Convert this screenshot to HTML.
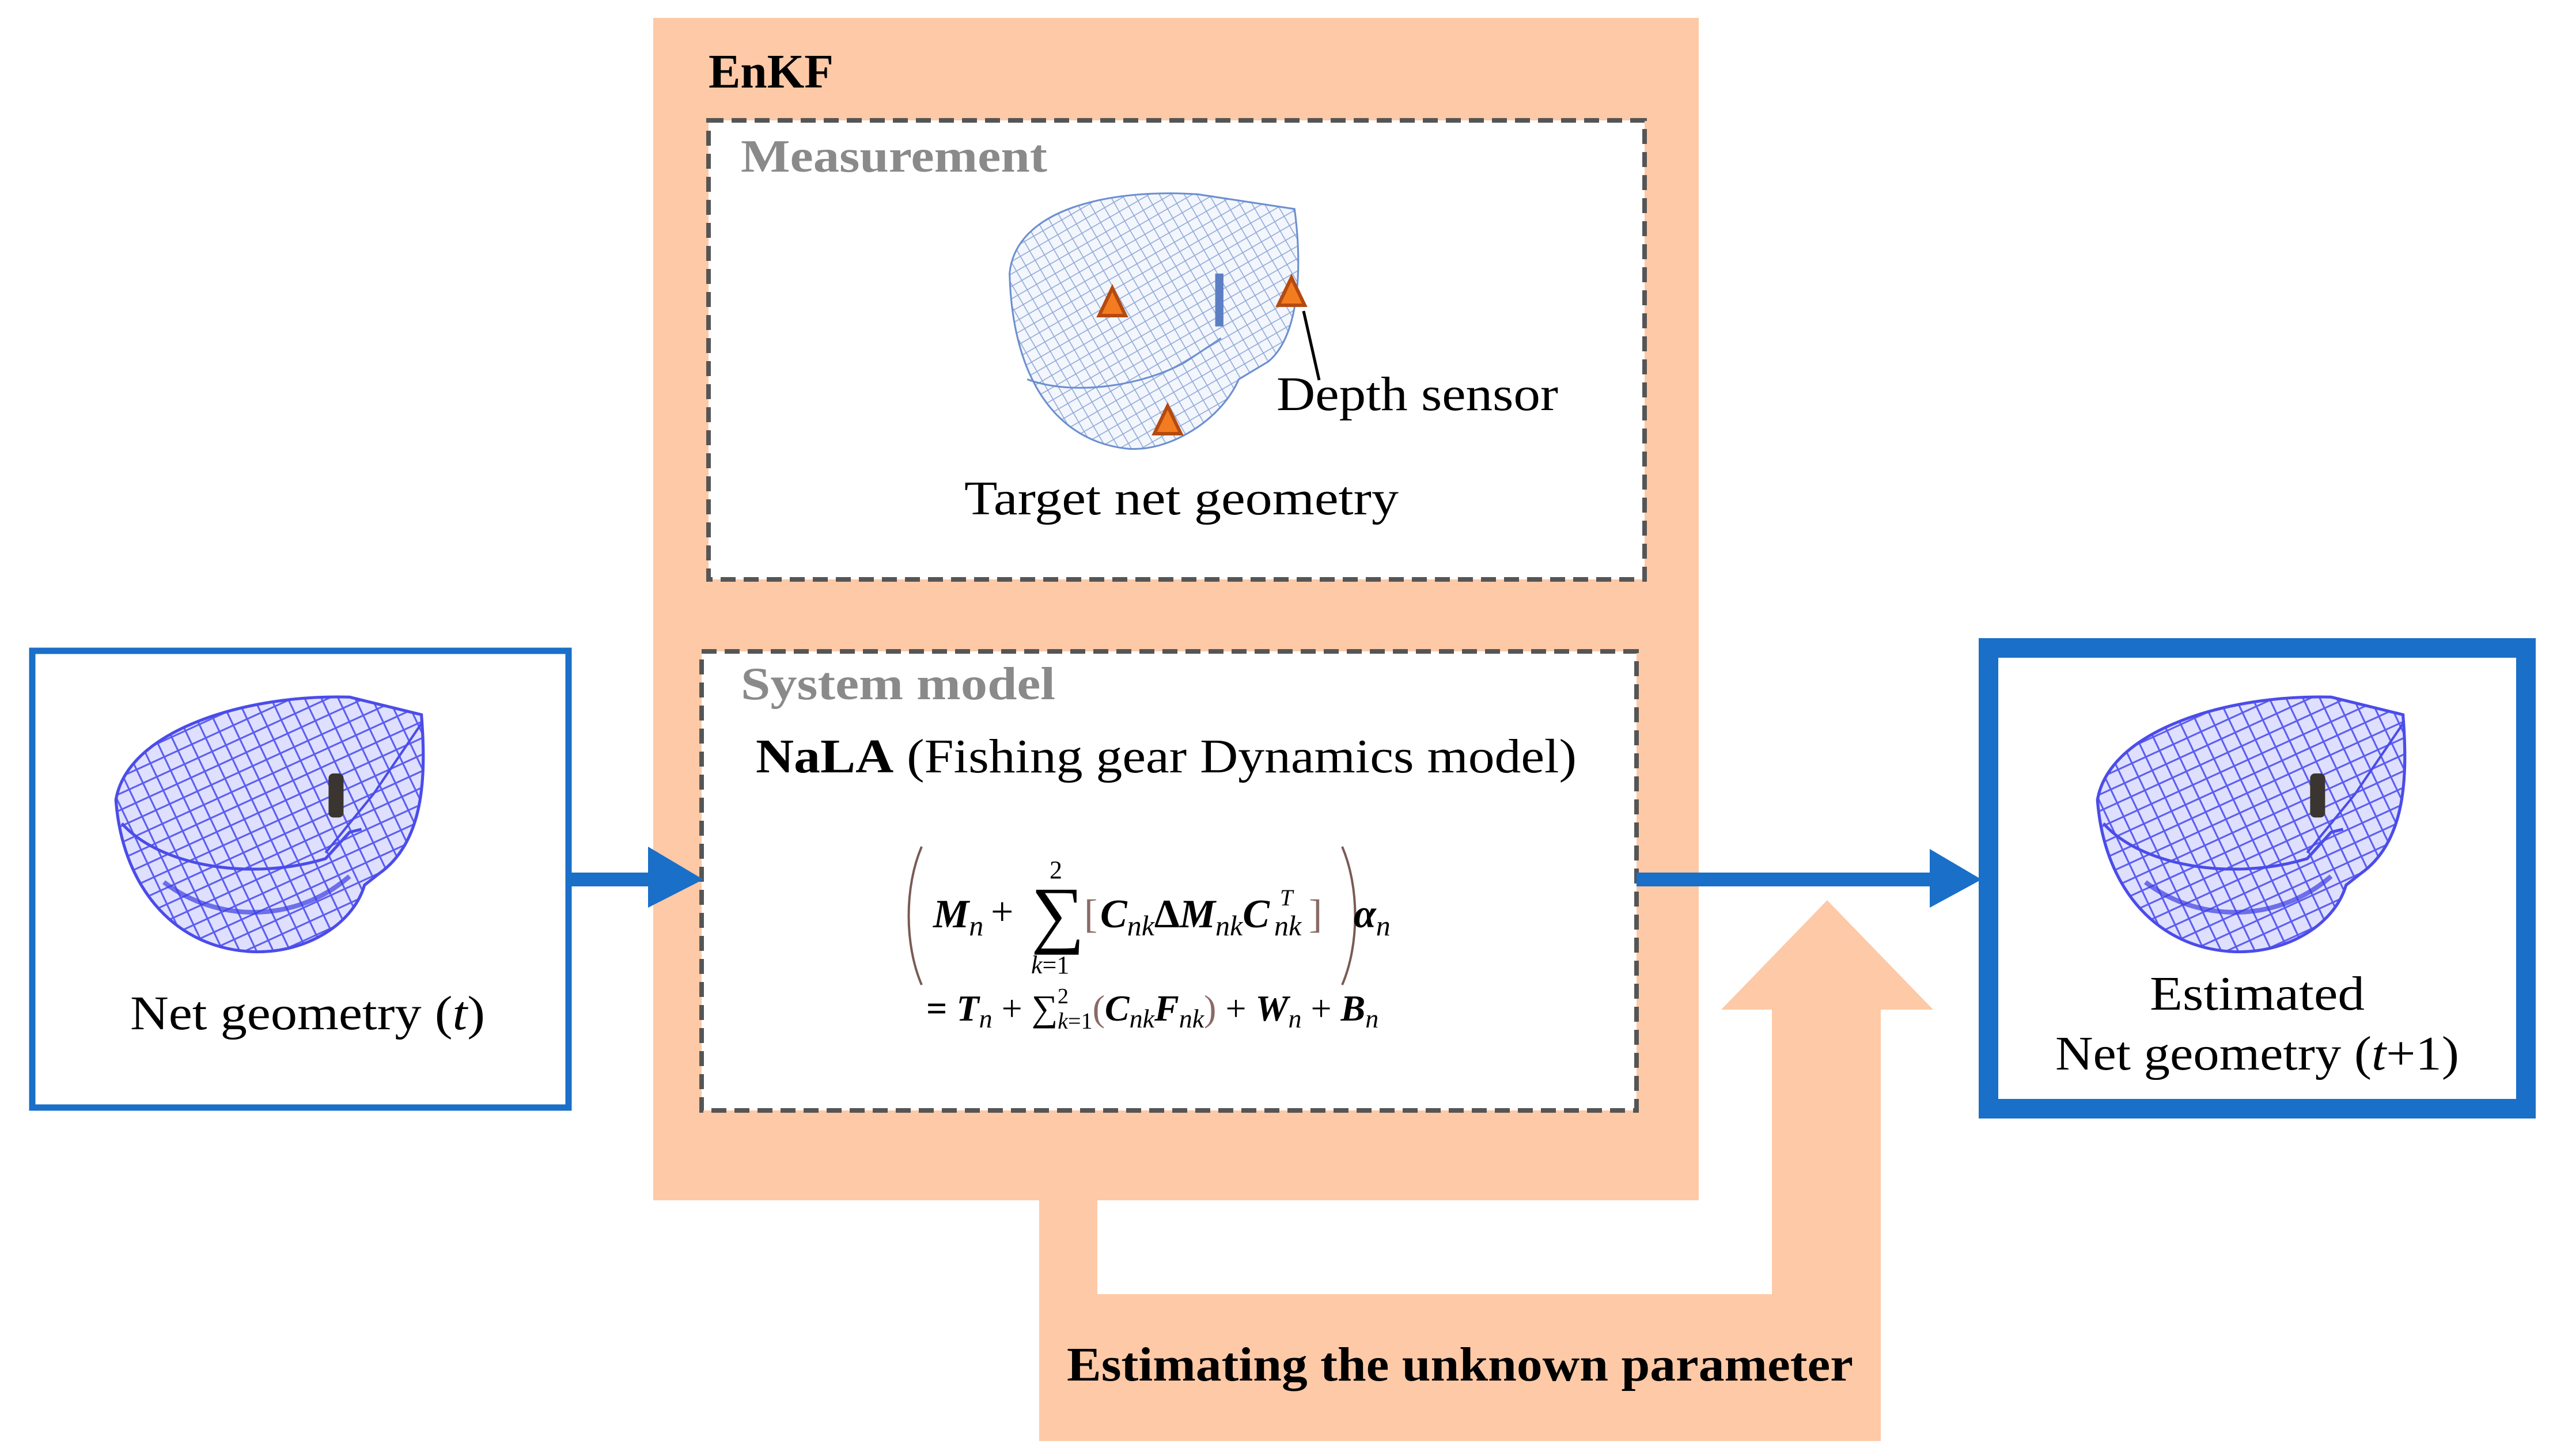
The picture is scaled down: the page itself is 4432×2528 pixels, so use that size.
<!DOCTYPE html>
<html><head><meta charset="utf-8"><style>
html,body{margin:0;padding:0;background:#fff;}
svg{display:block;}
text{font-family:"Liberation Serif",serif;}
</style></head><body>
<svg width="4432" height="2528" viewBox="0 0 4432 2528" xmlns="http://www.w3.org/2000/svg">
<defs>
<pattern id="mesh" width="36" height="36" patternUnits="userSpaceOnUse" patternTransform="rotate(20)">
<rect width="36" height="36" fill="#dfe0ff"/>
<path d="M0 0L36 36M36 0L0 36" stroke="#5b5cf0" stroke-width="3"/>
</pattern>
<pattern id="mesh2" width="26" height="26" patternUnits="userSpaceOnUse" patternTransform="rotate(15)">
<rect width="26" height="26" fill="#f3f6fc"/>
<path d="M0 0L26 26M26 0L0 26" stroke="#8fa9d8" stroke-width="1.6"/>
</pattern>
<g id="net">
<path d="M30 190 C50 70 250 10 420 15 L540 45 C548 150 545 260 470 315 L445 335 C425 405 340 455 250 448 C120 438 40 330 30 190 Z" fill="url(#mesh)" stroke="#4b4ce8" stroke-width="5"/>
<path d="M40 230 C100 300 250 330 380 290 L420 245 L440 240" fill="none" stroke="#4b4ce8" stroke-width="5"/>
<path d="M110 330 C200 400 330 400 420 320" fill="none" stroke="#3c3de0" stroke-width="8" opacity="0.7"/>
<path d="M380 280 L460 180 L540 60" fill="none" stroke="#4b4ce8" stroke-width="4"/>
<rect x="385" y="145" width="25" height="75" rx="8" fill="#3a3530"/>
</g>
</defs>

<rect x="1134" y="31" width="1815" height="2053" fill="#fdc9a6"/>
<path d="M1804 2084 L1905 2084 L1905 2247 L3076 2247 L3076 1753 L2988 1753 L3172 1563 L3356 1753 L3265 1753 L3265 2502 L1804 2502 Z" fill="#fdc9a6"/>

<text x="1230" y="152" font-size="84" font-weight="bold" fill="#000" textLength="217" lengthAdjust="spacingAndGlyphs">EnKF</text>

<rect x="1230" y="209" width="1625" height="797" fill="#fff" stroke="#555" stroke-width="8" stroke-dasharray="26 14"/>
<text x="1286" y="298" font-size="80" font-weight="bold" fill="#8a8a8a" textLength="532" lengthAdjust="spacingAndGlyphs">Measurement</text>
<g transform="translate(1722,322) scale(1.02)">
<path d="M30 150 C40 40 200 5 350 15 L515 40 C530 150 520 260 470 300 L420 330 C390 400 300 455 230 448 C110 435 35 330 30 150 Z" fill="url(#mesh2)" stroke="#6b8fd0" stroke-width="3"/>
<path d="M60 330 C140 360 260 340 330 300 L390 260" fill="none" stroke="#6b8fd0" stroke-width="3"/>
<rect x="380" y="150" width="14" height="90" fill="#5c7fc4"/>
</g>
<path d="M2263 540 L2290 660" stroke="#000" stroke-width="5"/>
<polygon points="1931,500 1954,548 1908,548" fill="#f47c20" stroke="#b44a10" stroke-width="6"/>
<polygon points="2242,482 2265,530 2219,530" fill="#f47c20" stroke="#b44a10" stroke-width="6"/>
<polygon points="2027,705 2050,753 2004,753" fill="#f47c20" stroke="#b44a10" stroke-width="6"/>
<text x="2216" y="712" font-size="84" fill="#000" textLength="489" lengthAdjust="spacingAndGlyphs">Depth sensor</text>
<text x="1674" y="893" font-size="84" fill="#000" textLength="754" lengthAdjust="spacingAndGlyphs">Target net geometry</text>

<rect x="1218" y="1131" width="1623" height="797" fill="#fff" stroke="#555" stroke-width="8" stroke-dasharray="26 14"/>
<text x="1286" y="1214" font-size="80" font-weight="bold" fill="#8a8a8a" textLength="546" lengthAdjust="spacingAndGlyphs">System model</text>
<text x="1312" y="1341" font-size="84" fill="#000" textLength="1425" lengthAdjust="spacingAndGlyphs"><tspan font-weight="bold">NaLA</tspan> (Fishing gear Dynamics model)</text>

<g font-style="italic" font-weight="bold" fill="#000">
<path d="M1600 1470 C1570 1540 1570 1640 1600 1710" fill="none" stroke="#7a5a55" stroke-width="4"/>
<path d="M2330 1470 C2360 1540 2360 1640 2330 1710" fill="none" stroke="#7a5a55" stroke-width="4"/>
<text x="1620" y="1610" font-size="70">M<tspan font-size="50" dy="14" font-weight="normal">n</tspan></text>
<text x="1720" y="1606" font-size="70" font-style="normal" font-weight="normal">+</text>
<text x="1790" y="1630" font-size="130" font-style="normal" font-weight="normal">∑</text>
<text x="1822" y="1525" font-size="44" font-style="normal" font-weight="normal">2</text>
<text x="1790" y="1690" font-size="44" font-weight="normal">k<tspan font-style="normal">=1</tspan></text>
<text x="1882" y="1610" font-size="70" font-style="normal" font-weight="normal" fill="#8a6a66">[</text>
<text x="1910" y="1610" font-size="70">C<tspan font-size="50" dy="14" font-weight="normal">nk</tspan><tspan dy="-14" font-style="normal">Δ</tspan>M<tspan font-size="50" dy="14" font-weight="normal">nk</tspan><tspan dy="-14">C</tspan></text>
<text x="2222" y="1572" font-size="40" font-weight="normal">T</text>
<text x="2212" y="1624" font-size="50" font-weight="normal">nk</text>
<text x="2272" y="1610" font-size="70" font-style="normal" font-weight="normal" fill="#8a6a66">]</text>
<text x="2350" y="1610" font-size="70">α<tspan font-size="50" dy="14" font-weight="normal">n</tspan></text>
<text x="1608" y="1772" font-size="64"><tspan font-style="normal">= </tspan>T<tspan font-size="46" dy="12" font-weight="normal">n</tspan><tspan dy="-12" font-style="normal" font-weight="normal"> + ∑</tspan><tspan font-size="40" dy="14" font-weight="normal">k<tspan font-style="normal">=1</tspan></tspan><tspan dy="-14" font-style="normal" font-weight="normal" fill="#8a6a66">(</tspan>C<tspan font-size="46" dy="12" font-weight="normal">nk</tspan><tspan dy="-12">F</tspan><tspan font-size="46" dy="12" font-weight="normal">nk</tspan><tspan dy="-12" font-style="normal" font-weight="normal" fill="#8a6a66">)</tspan><tspan font-style="normal" font-weight="normal"> + </tspan>W<tspan font-size="46" dy="12" font-weight="normal">n</tspan><tspan dy="-12" font-style="normal" font-weight="normal"> + </tspan>B<tspan font-size="46" dy="12" font-weight="normal">n</tspan></text>
<text x="1836" y="1742" font-size="38" font-style="normal" font-weight="normal">2</text>
</g>

<rect x="56" y="1130" width="931" height="793" fill="#fff" stroke="#1a6fc8" stroke-width="11"/>
<use href="#net" transform="translate(170,1195) scale(1.04,1.02)"/>
<text x="226" y="1787" font-size="84" fill="#000" textLength="616" lengthAdjust="spacingAndGlyphs">Net geometry (<tspan font-style="italic">t</tspan>)</text>

<rect x="3452" y="1125" width="933" height="800" fill="#fff" stroke="#1a6fc8" stroke-width="34"/>
<use href="#net" transform="translate(3610,1195) scale(1.04,1.02)"/>
<text x="3732" y="1753" font-size="84" fill="#000" textLength="373" lengthAdjust="spacingAndGlyphs">Estimated</text>
<text x="3568" y="1857" font-size="84" fill="#000" textLength="701" lengthAdjust="spacingAndGlyphs">Net geometry (<tspan font-style="italic">t</tspan>+1)</text>

<rect x="992" y="1515" width="140" height="24" fill="#1a6fc8"/>
<polygon points="1125,1470 1221,1527 1125,1576" fill="#1a6fc8"/>
<rect x="2841" y="1515" width="520" height="24" fill="#1a6fc8"/>
<polygon points="3350,1474 3440,1527 3350,1576" fill="#1a6fc8"/>

<text x="1852" y="2397" font-size="84" font-weight="bold" fill="#000" textLength="1365" lengthAdjust="spacingAndGlyphs">Estimating the unknown parameter</text>
</svg>
</body></html>
